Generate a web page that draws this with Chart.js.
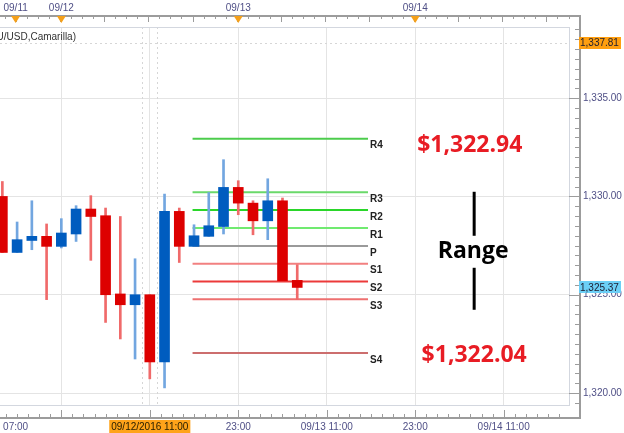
<!DOCTYPE html>
<html>
<head>
<meta charset="utf-8">
<script src="https://cdn.jsdelivr.net/npm/chart.js@4.4.0/dist/chart.umd.min.js"></script>
<style>
  html, body { margin: 0; padding: 0; background: #fff; }
</style>
</head>
<body>
<canvas id="chart" width="624" height="433"></canvas>
<script>
// XAU/USD 2h candles, x = candle index (0 = leftmost, partly cut off)
const opens  = [1330.00, 1327.15, 1327.76, 1327.97, 1327.46, 1328.09, 1329.36, 1329.02, 1325.04, 1324.49, 1325.00,
                1321.58, 1329.24, 1327.46, 1327.97, 1328.47, 1330.46, 1329.66, 1328.76, 1329.78, 1325.73];
const highs  = [1330.76, 1328.70, 1329.78, 1328.60, 1328.87, 1329.53, 1330.04, 1329.41, 1328.98, 1326.83, 1325.00,
                1330.12, 1329.41, 1328.56, 1330.20, 1331.87, 1330.80, 1329.78, 1330.90, 1329.92, 1326.53];
const lows   = [1327.15, 1327.15, 1327.29, 1324.75, 1327.38, 1327.71, 1326.75, 1323.59, 1322.75, 1321.73, 1320.72,
                1320.26, 1326.64, 1327.46, 1327.97, 1328.09, 1329.07, 1328.05, 1327.80, 1325.71, 1324.75];
const closes = [1327.15, 1327.80, 1327.97, 1327.46, 1328.14, 1329.36, 1328.98, 1325.00, 1324.49, 1325.00, 1321.58,
                1329.24, 1327.46, 1328.00, 1328.51, 1330.46, 1329.66, 1328.76, 1329.78, 1325.71, 1325.37];

// camarilla levels for 09/13
const levelNames  = ['R4', 'R3', 'R2', 'R1', 'P', 'S1', 'S2', 'S3', 'S4'];
const levelValues = [1332.94, 1330.21, 1329.31, 1328.40, 1327.48, 1326.58, 1325.67, 1324.77, 1322.04];
const levelColors = ['#4ccc4c', '#6ad96a', '#2ad62a', '#70ea70', '#9a9a9a', '#f28080', '#ec3a3a', '#ee7070', '#cc6e6e'];
const levelFrom = 12.9;
const levelTo = 24.8;

// axes
const bottomTicks  = [0.9, 4, 10, 16, 22, 28, 34];
const bottomLabels = ['07:00', '', '09/12/2016 11:00', '23:00', '09/13 11:00', '23:00', '09/14 11:00'];
const topTicks  = [0.9, 4, 16, 28];
const topLabels = ['09/11', '09/12', '09/13', '09/14'];
const priceTicks = [1320, 1325, 1330, 1335];

const xMin = -0.16, xMax = 38.5;
const yMin = 1319.39, yMax = 1338.62;
const cursorIndex = 10;
const askPrice = 1337.81;
const bidPrice = 1325.37;

const upBody = '#005cbf', downBody = '#dd0000';
const upWick = '#72a6e0', downWick = '#f06a6a';
const axisText = '#4f4f86';

const idx = opens.map((_, i) => i);
const isUp = idx.map(i => closes[i] >= opens[i]);
const fmt = v => v.toLocaleString('en-US', { minimumFractionDigits: 2, maximumFractionDigits: 2 });

Chart.defaults.font.family = '"Liberation Sans", Arial, sans-serif';
Chart.defaults.font.size = 10;

function line(ctx, x1, y1, x2, y2) {
  ctx.beginPath(); ctx.moveTo(x1, y1); ctx.lineTo(x2, y2); ctx.stroke();
}

// fixed axis sizes, no extra padding for labels at the edges
function fixSize(w, h) {
  return s => {
    if (w !== null) s.width = w;
    if (h !== null) s.height = h;
    s.paddingLeft = 0; s.paddingRight = 0; s.paddingTop = 0; s.paddingBottom = 0;
  };
}

// all the bits the broker chart draws around the plot
const extras = {
  id: 'extras',
  beforeDatasetsDraw(chart) {
    const { ctx, chartArea: a, scales: { x, y } } = chart;
    ctx.save();
    ctx.beginPath(); ctx.rect(a.left, a.top, a.right - a.left, a.bottom - a.top); ctx.clip();
    ctx.strokeStyle = '#d6d6d6'; ctx.lineWidth = 1; ctx.setLineDash([2, 3]);
    [cursorIndex - 0.5, cursorIndex + 0.5].forEach(v => {
      const px = Math.round(x.getPixelForValue(v)) + 0.5;
      line(ctx, px, a.top, px, a.bottom);
    });
    const py = Math.round(y.getPixelForValue(askPrice)) + 0.5;
    line(ctx, a.left, py, a.right, py);
    ctx.restore();
  },
  afterDraw(chart) {
    const { ctx, chartArea: a, scales: { x, y } } = chart;
    ctx.save();

    // plot frame
    ctx.strokeStyle = '#d3d7df'; ctx.lineWidth = 1;
    ctx.strokeRect(a.left - 1, a.top + 0.5, a.right - a.left + 0.5, a.bottom - a.top);

    // axis lines
    const topY = a.top - 11, botY = a.bottom + 13, rightX = a.right + 10;
    ctx.strokeStyle = '#9c9c9c'; ctx.lineWidth = 2;
    line(ctx, 0, topY, rightX + 1, topY);
    line(ctx, 0, botY, rightX + 1, botY);
    line(ctx, rightX, topY, rightX, botY);

    ctx.lineWidth = 1;
    // price ticks
    for (let k = 0; ; k++) {
      const v = 1319.5 + k * 0.5;
      if (v > yMax) break;
      const py = Math.round(y.getPixelForValue(v)) + 0.5;
      line(ctx, rightX - (v % 5 === 0 ? 11 : 5), py, rightX, py);
    }
    // time ticks, top and bottom
    for (let k = -8; k < 60; k++) {
      const tb = 4 + k * 0.75, tt = 0.9 + k * 0.75;
      if (tb > xMin && tb < xMax) {
        const px = Math.round(x.getPixelForValue(tb)) + 0.5;
        line(ctx, px, botY - (k % 8 === 0 ? 8 : 4), px, botY);
      }
      if (tt > xMin && tt < xMax) {
        const px = Math.round(x.getPixelForValue(tt)) + 0.5;
        line(ctx, px, topY, px, topY + (k % 4 === 0 ? 6 : 3));
      }
    }
    // day markers
    ctx.fillStyle = '#f5a01a';
    topTicks.forEach(t => {
      const px = x.getPixelForValue(t);
      ctx.beginPath();
      ctx.moveTo(px - 4.5, topY); ctx.lineTo(px + 4.5, topY); ctx.lineTo(px, topY + 7);
      ctx.closePath(); ctx.fill();
    });

    // level names
    ctx.fillStyle = '#222'; ctx.font = 'bold 10px "Liberation Sans", Arial, sans-serif';
    ctx.textAlign = 'left'; ctx.textBaseline = 'middle';
    levelNames.forEach((n, k) => {
      ctx.fillText(n, x.getPixelForValue(levelTo) + 2, y.getPixelForValue(levelValues[k]) + 7);
    });

    // annotation
    ctx.textAlign = 'center';
    ctx.font = 'bold 23px "Open Sans", "Liberation Sans", sans-serif';
    ctx.fillStyle = '#e81c24';
    ctx.fillText('$1,322.94', x.getPixelForValue(31.7), y.getPixelForValue(levelValues[0]) + 7);
    ctx.fillText('$1,322.04', x.getPixelForValue(32), y.getPixelForValue(levelValues[8]) + 3);
    const rx = x.getPixelForValue(32);
    const mid = (y.getPixelForValue(levelValues[1]) + y.getPixelForValue(levelValues[7])) / 2 + 6;
    ctx.fillStyle = '#000';
    ctx.fillText('Range', rx - 1, mid);
    ctx.strokeStyle = '#000'; ctx.lineWidth = 3;
    line(ctx, rx, mid - 60, rx, mid - 16);
    line(ctx, rx, mid + 16, rx, mid + 58);

    // price boxes on the right axis
    ctx.font = '10px "Liberation Sans", Arial, sans-serif';
    ctx.textAlign = 'left';
    [[askPrice, '#ff9f10'], [bidPrice, '#6ccff6']].forEach(([p, c]) => {
      const py = y.getPixelForValue(p);
      ctx.fillStyle = c;
      ctx.fillRect(rightX - 1, Math.round(py) - 6, 42, 12);
      ctx.fillStyle = '#1c1c30';
      ctx.fillText(fmt(p), rightX, py + 0.5);
    });

    // instrument title, cut off on the left
    ctx.textAlign = 'right'; ctx.fillStyle = '#333';
    ctx.fillText('(XAU/USD,Camarilla)', 76, a.top + 10);
    ctx.restore();
  }
};

new Chart(document.getElementById('chart'), {
  type: 'bar',
  data: {
    datasets: [
      ...levelNames.map((n, k) => ({
        type: 'line',
        label: n,
        data: [{ x: levelFrom, y: levelValues[k] }, { x: levelTo, y: levelValues[k] }],
        borderColor: levelColors[k],
        borderWidth: 2,
        pointRadius: 0,
        order: 3
      })),
      {
        label: 'wick',
        data: idx.map(i => ({ x: i, y: [lows[i], highs[i]] })),
        backgroundColor: idx.map(i => isUp[i] ? upWick : downWick),
        barThickness: 2,
        grouped: false,
        order: 2
      },
      {
        label: 'body',
        data: idx.map(i => ({ x: i, y: [Math.min(opens[i], closes[i]), Math.max(opens[i], closes[i])] })),
        backgroundColor: idx.map(i => isUp[i] ? upBody : downBody),
        barThickness: 10,
        grouped: false,
        order: 1
      }
    ]
  },
  options: {
    responsive: false,
    animation: false,
    layout: { padding: 0 },
    plugins: { legend: { display: false }, tooltip: { enabled: false } },
    scales: {
      x: {
        type: 'linear',
        position: 'bottom',
        min: xMin, max: xMax,
        offset: false,
        afterBuildTicks: s => { s.ticks = bottomTicks.map(v => ({ value: v })); },
        afterFit: fixSize(null, 28),
        border: { display: false },
        grid: {
          offset: false,
          drawTicks: false,
          color: c => (c.tick && c.tick.value === bottomTicks[0]) ? 'rgba(0,0,0,0)' : '#e4e4e4'
        },
        ticks: {
          autoSkip: false, maxRotation: 0, padding: 16,
          callback: (v, i) => bottomLabels[i],
          color: c => c.tick && c.tick.value === cursorIndex ? '#2a2000' : axisText,
          showLabelBackdrop: c => !!(c.tick && c.tick.value === cursorIndex),
          backdropColor: '#ffa31a',
          backdropPadding: { top: 1, bottom: 0, left: 2, right: 2 }
        }
      },
      x2: {
        type: 'linear',
        position: 'top',
        min: xMin, max: xMax,
        offset: false,
        afterBuildTicks: s => { s.ticks = topTicks.map(v => ({ value: v })); },
        afterFit: fixSize(null, 27),
        border: { display: false },
        grid: { drawOnChartArea: false, drawTicks: false },
        ticks: {
          autoSkip: false, maxRotation: 0, padding: 13, color: axisText,
          callback: (v, i) => topLabels[i]
        }
      },
      y: {
        type: 'linear',
        position: 'right',
        min: yMin, max: yMax,
        afterBuildTicks: s => { s.ticks = priceTicks.map(v => ({ value: v })); },
        afterFit: fixSize(54, null),
        border: { display: false },
        grid: { drawTicks: false, color: '#e4e4e4' },
        ticks: { padding: 13, color: axisText, callback: v => fmt(v) }
      }
    }
  },
  plugins: [extras]
});
</script>
</body>
</html>
